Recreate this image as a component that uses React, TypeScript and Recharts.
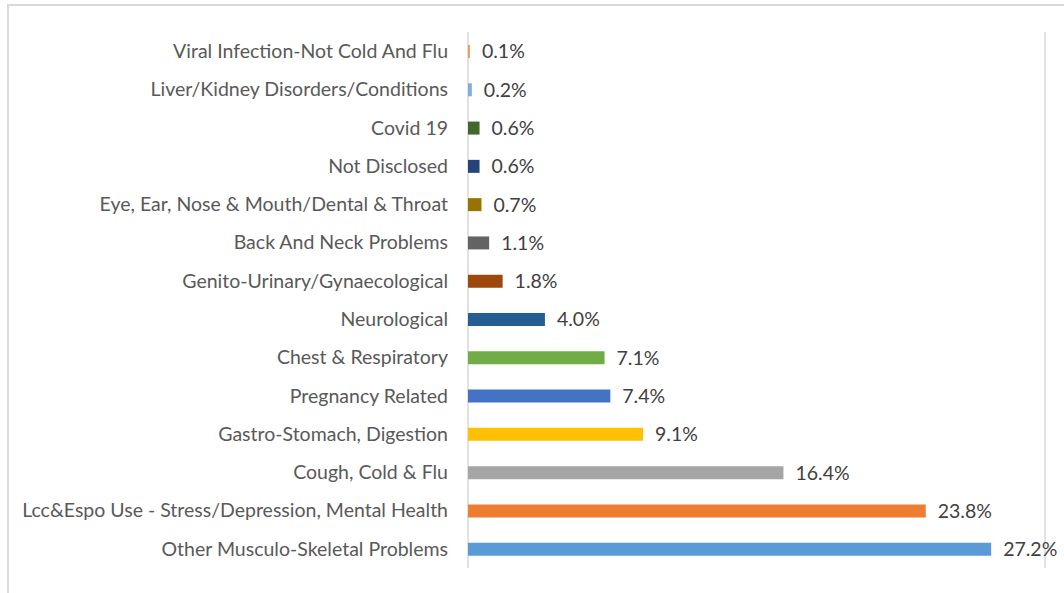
import React from "react";
import { BarChart, Bar, XAxis, YAxis, CartesianGrid, Cell, LabelList } from "recharts";

const categories = [
  "Viral Infection-Not Cold And Flu",
  "Liver/Kidney Disorders/Conditions",
  "Covid 19",
  "Not Disclosed",
  "Eye, Ear, Nose & Mouth/Dental & Throat",
  "Back And Neck Problems",
  "Genito-Urinary/Gynaecological",
  "Neurological",
  "Chest & Respiratory",
  "Pregnancy Related",
  "Gastro-Stomach, Digestion",
  "Cough, Cold & Flu",
  "Lcc&Espo Use - Stress/Depression, Mental Health",
  "Other Musculo-Skeletal Problems",
];

const values = [0.1, 0.2, 0.6, 0.6, 0.7, 1.1, 1.8, 4.0, 7.1, 7.4, 9.1, 16.4, 23.8, 27.2];

const colors = [
  "#F1975A",
  "#7CAFDD",
  "#43682B",
  "#264478",
  "#997300",
  "#636363",
  "#9E480E",
  "#255E91",
  "#70AD47",
  "#4472C4",
  "#FFC000",
  "#A5A5A5",
  "#ED7D31",
  "#5B9BD5",
];

const xTicks = [0, 5, 10, 15, 20, 25, 30];

const data = categories.map((name, i) => ({ name, value: values[i] }));

const FONT = "Lato, 'Open Sans', sans-serif";

export default function App() {
  return (
    <div style={{ position: "absolute", left: 0, top: 0, width: 1064, height: 593, overflow: "hidden", background: "#fff" }}>
      <style>{"body{margin:0}"}</style>
      <div
        style={{
          position: "absolute",
          left: 7,
          top: 4,
          width: 1200,
          height: 800,
          border: "2px solid #D9D9D9",
          boxSizing: "border-box",
        }}
      />
      <div style={{ position: "absolute", left: 0, top: 0 }}>
        <BarChart
          width={1064}
          height={593}
          data={data}
          layout="vertical"
          margin={{ top: 32, right: 19, bottom: 25, left: 0 }}
          barCategoryGap={0}
        >
          <CartesianGrid horizontal={false} stroke="#D9D9D9" strokeWidth={1.5} />
          <XAxis
            type="number"
            domain={[0, 30]}
            ticks={xTicks}
            tick={false}
            axisLine={false}
            tickLine={false}
            height={0}
          />
          <YAxis
            type="category"
            dataKey="name"
            width={468}
            axisLine={false}
            tickLine={false}
            tickSize={0}
            tickMargin={20}
            interval={0}
            tick={{ fill: "#595959", fontSize: 19.5, fontFamily: FONT }}
          />
          <Bar dataKey="value" barSize={13} isAnimationActive={false}>
            {data.map((d, i) => (
              <Cell key={d.name} fill={colors[i]} />
            ))}
            <LabelList
              dataKey="value"
              position="right"
              offset={12}
              formatter={(v: number) => `${v.toFixed(1)}%`}
              style={{ fill: "#404040", fontSize: 19.5, fontFamily: FONT }}
            />
          </Bar>
        </BarChart>
      </div>
    </div>
  );
}
